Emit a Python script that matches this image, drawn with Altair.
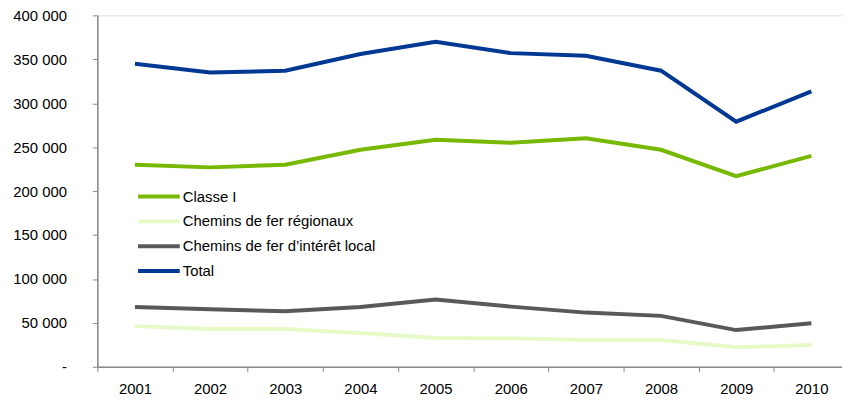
import altair as alt
import pandas as pd

years = ["2001", "2002", "2003", "2004", "2005", "2006", "2007", "2008", "2009", "2010"]
series_names = ["Classe I", "Chemins de fer régionaux", "Chemins de fer d’intérêt local", "Total"]
classe_i = [230000, 227000, 230000, 247000, 258500, 255000, 260000, 247000, 217000, 240000]
regionaux = [46300, 43000, 43000, 38400, 32700, 32400, 30500, 30500, 22200, 24800]
interet_local = [68000, 65500, 63200, 68000, 76700, 68500, 61700, 58000, 41800, 49700]
total = [345000, 335000, 337000, 356000, 370000, 357000, 354000, 337000, 279000, 313500]
colors = ["#76b900", "#e6fac8", "#58595b", "#003893"]

rows = []
for name, vals in zip(series_names, [classe_i, regionaux, interet_local, total]):
    for y, v in zip(years, vals):
        rows.append({"Année": y, "Série": name, "Valeur": v})
df = pd.DataFrame(rows)

chart = alt.Chart(df).mark_line(strokeWidth=4, strokeJoin="miter").encode(
    x=alt.X("Année:O", title=None, sort=years,
            scale=alt.Scale(paddingInner=0, paddingOuter=0),
            axis=alt.Axis(labelAngle=0, tickBand="extent", domainColor="#888888",
                          tickColor="#888888", tickSize=5, labelFontSize=15,
                          labelColor="#000000", labelFont="Liberation Sans",
                          labelPadding=10, domainWidth=1.5, tickWidth=1)),
    y=alt.Y("Valeur:Q", title=None,
            scale=alt.Scale(domain=[0, 400000], nice=False),
            axis=alt.Axis(values=[0, 50000, 100000, 150000, 200000, 250000, 300000, 350000, 400000],
                          format=",d", labelExpr="datum.value == 0 ? '-' : datum.label",
                          grid=False, domainColor="#888888", tickColor="#888888",
                          tickSize=5, labelFontSize=15, labelColor="#000000",
                          labelFont="Liberation Sans", labelPadding=26, domainWidth=1.5)),
    color=alt.Color("Série:N", sort=series_names,
                    scale=alt.Scale(domain=series_names, range=colors),
                    legend=alt.Legend(title=None, orient="none", legendX=49.5, legendY=170,
                                      symbolType="M-2,0H2", symbolSize=441,
                                      symbolStrokeWidth=4, labelFontSize=15,
                                      labelFont="Liberation Sans", labelColor="#000000",
                                      labelOffset=11.5, rowPadding=4, padding=0,
                                      labelLimit=400)),
    order=alt.Order("Année:O"),
).properties(
    width=757,
    height=354,
    autosize=alt.AutoSizeParams(type="none"),
    padding={"left": 90, "top": 6, "right": -7, "bottom": 30},
).configure_view(stroke=None).configure(font="Liberation Sans")

chart.save("out.html", embed_options={
    "renderer": "svg", "actions": False,
    "formatLocale": {"decimal": ",", "thousands": " ", "grouping": [3], "currency": ["", " €"]},
})
